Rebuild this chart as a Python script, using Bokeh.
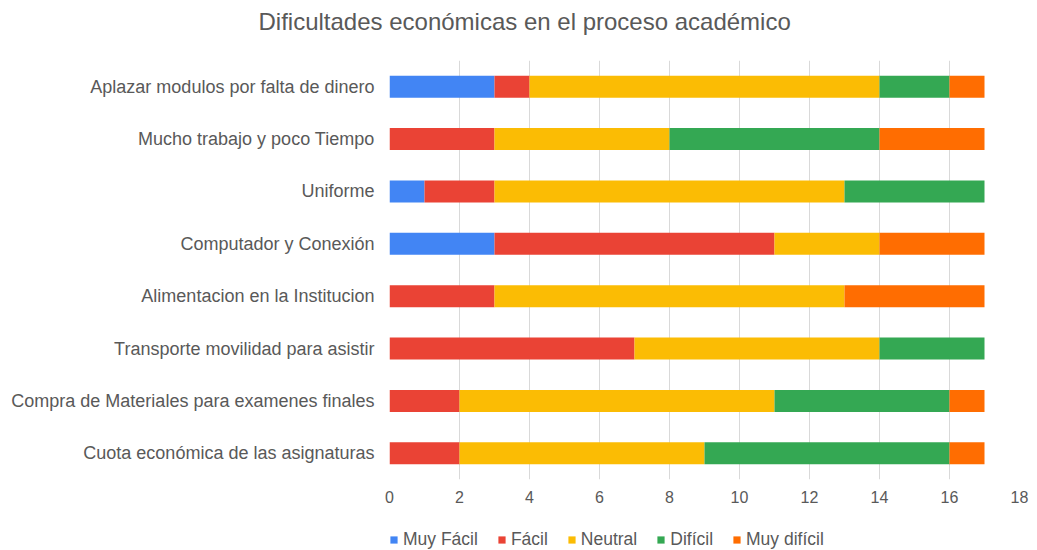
from bokeh.plotting import figure
from bokeh.layouts import column
from bokeh.models import FactorRange, Legend, LegendItem, FixedTicker, Title
from bokeh.embed import file_html
from bokeh.resources import INLINE

categories = [
    "Aplazar modulos por falta de dinero",
    "Mucho trabajo y poco Tiempo",
    "Uniforme",
    "Computador y Conexión",
    "Alimentacion en la Institucion",
    "Transporte movilidad para asistir",
    "Compra de Materiales para examenes finales",
    "Cuota económica de las asignaturas",
]
series = ["Muy Fácil", "Fácil", "Neutral", "Difícil", "Muy difícil"]
muy_facil = [3, 0, 1, 3, 0, 0, 0, 0]
facil = [1, 3, 2, 8, 3, 7, 2, 2]
neutral = [10, 5, 10, 3, 10, 7, 9, 7]
dificil = [2, 6, 4, 0, 0, 3, 5, 7]
muy_dificil = [1, 3, 0, 3, 4, 0, 1, 1]
colors = ["#4285F4", "#EA4335", "#FBBC04", "#34A853", "#FF6D01"]
x_ticks = [0, 2, 4, 6, 8, 10, 12, 14, 16, 18]

FONT = "Liberation Sans"
TXT = "#595959"

data = dict(cat=categories)
keys = ["s0", "s1", "s2", "s3", "s4"]
for k, v in zip(keys, [muy_facil, facil, neutral, dificil, muy_dificil]):
    data[k] = v

p = figure(width=1030, height=514, output_backend="svg", toolbar_location=None,
           y_range=FactorRange(*reversed(categories)), x_range=(0, 18),
           min_border_left=389, min_border_right=11, min_border_top=60, min_border_bottom=35)
p.outline_line_color = None

p.hbar_stack(keys, y="cat", height=0.42, color=colors, line_color=None, source=data)

p.xaxis.ticker = FixedTicker(ticks=x_ticks)
p.xaxis.axis_line_color = None
p.xaxis.major_tick_line_color = None
p.xaxis.minor_tick_line_color = None
p.xaxis.major_label_text_font = FONT
p.xaxis.major_label_text_font_size = "16px"
p.xaxis.major_label_text_color = TXT
p.xaxis.major_label_standoff = 5

p.yaxis.axis_line_color = None
p.yaxis.major_tick_line_color = None
p.yaxis.minor_tick_line_color = None
p.yaxis.major_label_text_font = FONT
p.yaxis.major_label_text_font_size = "18px"
p.yaxis.major_label_text_color = TXT
p.yaxis.major_label_standoff = 9

p.ygrid.grid_line_color = None
p.xgrid.grid_line_color = "#D9D9D9"
p.xgrid.grid_line_width = 1

# spacer between frame and title
p.add_layout(Title(text=" ", text_font_size="1px", standoff=22), "above")
t = Title(text="Dificultades económicas en el proceso académico", align="left", offset=-131,
          text_font=FONT, text_font_size="24px", text_color=TXT, text_font_style="normal",
          standoff=2)
p.add_layout(t, "above")

# legend strip below the chart (its renderers are legend proxies only, not drawn)
lg = figure(width=1030, height=36, output_backend="svg", toolbar_location=None,
            x_axis_type=None, y_axis_type=None, x_range=(0, 18),
            y_range=FactorRange(*reversed(categories)),
            min_border=0, min_border_left=0, min_border_right=0, min_border_top=0, min_border_bottom=0)
lg.outline_line_color = None
lg.xgrid.visible = False
lg.ygrid.visible = False
proxies = lg.hbar_stack(keys, y="cat", height=0.42, color=colors, line_color=None, source=data)
for r in proxies:
    r.visible = False

items = [LegendItem(label=s, renderers=[r]) for s, r in zip(series, proxies)]
legend = Legend(items=items, orientation="horizontal", location=(0, 0),
                label_text_font=FONT, label_text_font_size="17.5px", label_text_color=TXT,
                glyph_width=9, glyph_height=9, spacing=19, label_standoff=5,
                inactive_fill_alpha=0,
                background_fill_alpha=0, border_line_color=None, padding=0, margin=0)
lg.add_layout(legend, "center")

layout = column(p, lg, spacing=0)
open("out.html", "w").write(file_html(layout, INLINE))
